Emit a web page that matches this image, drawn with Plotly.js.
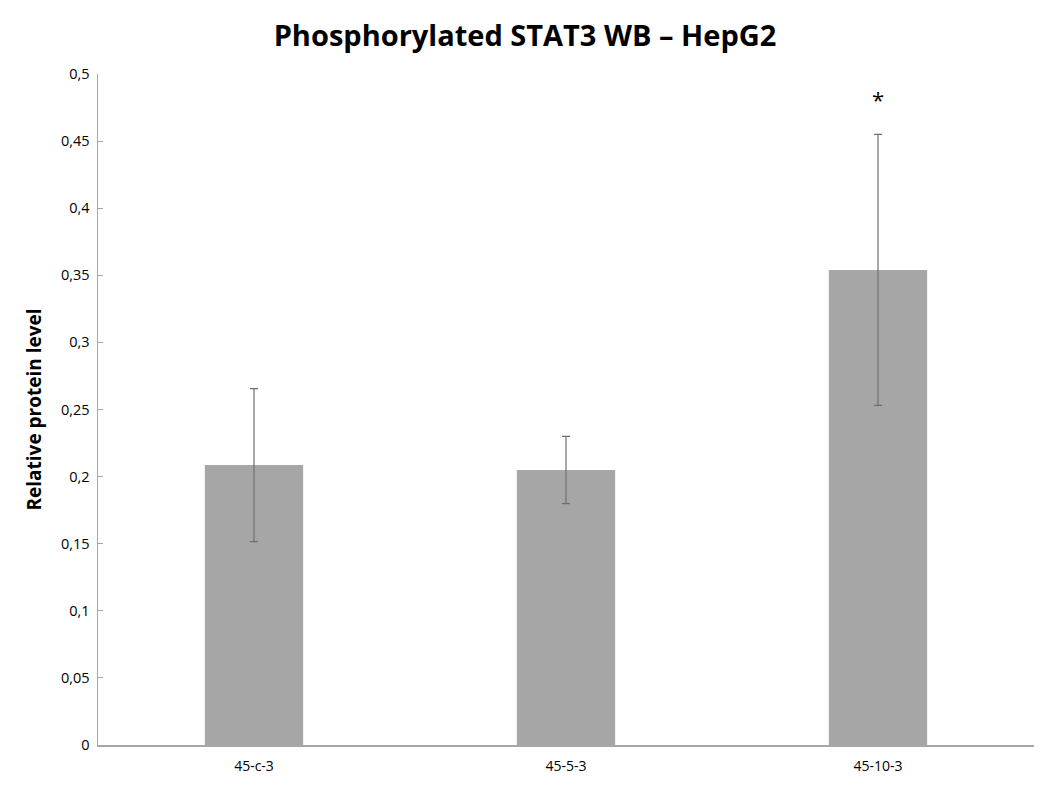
<!DOCTYPE html>
<html>
<head>
<meta charset="utf-8">
<script src="https://cdn.plot.ly/plotly-3.0.1.min.js"></script>
<style>html,body{margin:0;padding:0;background:#fff;}#chart{width:1050px;height:788px;}</style>
</head>
<body>
<div id="chart"></div>
<script>
const categories = ["45-c-3", "45-5-3", "45-10-3"];
const values = [0.2086, 0.2049, 0.354];
const errors = [0.057, 0.025, 0.101];
const significance = ["", "", "*"];
const yTickVals = [0, 0.05, 0.1, 0.15, 0.2, 0.25, 0.3, 0.35, 0.4, 0.45, 0.5];
const yTickText = ["0", "0,05", "0,1", "0,15", "0,2", "0,25", "0,3", "0,35", "0,4", "0,45", "0,5"];

const font = "Open Sans, Noto Sans, sans-serif";

const trace = {
  type: "bar",
  x: categories,
  y: values,
  width: 0.315,
  marker: {color: "#a6a6a6", line: {width: 0}},
  error_y: {type: "data", array: errors, visible: true, color: "#6e6e6e", thickness: 1.2, width: 4},
  hoverinfo: "x+y"
};

const annotations = categories.map((c, i) => ({
  x: c, y: values[i] + errors[i], yref: "y", xref: "x",
  text: significance[i], showarrow: false, yanchor: "bottom", yshift: 18,
  font: {family: font, size: 22, color: "#000"}
})).filter(a => a.text);

const layout = {
  width: 1050, height: 788,
  margin: {l: 98, r: 16, t: 74, b: 43},
  paper_bgcolor: "#fff", plot_bgcolor: "#fff",
  title: {text: "<b>Phosphorylated STAT3 WB – HepG2</b>", x: 0.5, xanchor: "center", y: 0.955, yanchor: "middle",
          font: {family: font, size: 29, color: "#000"}},
  xaxis: {type: "category", showline: true, linecolor: "#a6a6a6", linewidth: 1.5, ticks: "", showgrid: false,
          tickfont: {family: font, size: 14, color: "#000"}, ticklabelstandoff: 8, zeroline: false},
  yaxis: {range: [0, 0.5], tickvals: yTickVals, ticktext: yTickText, showline: true, linecolor: "#a6a6a6", linewidth: 1.5,
          ticks: "inside", ticklen: 5, tickcolor: "#a6a6a6", showgrid: false, zeroline: false,
          tickfont: {family: font, size: 14.5, color: "#000"}, ticklabelstandoff: 4,
          title: {text: "<b>Relative protein level</b>", font: {family: font, size: 19, color: "#000"}, standoff: 14}},
  annotations: annotations,
  showlegend: false
};

Plotly.newPlot("chart", [trace], layout, {displayModeBar: false, staticPlot: true});
</script>
</body>
</html>
